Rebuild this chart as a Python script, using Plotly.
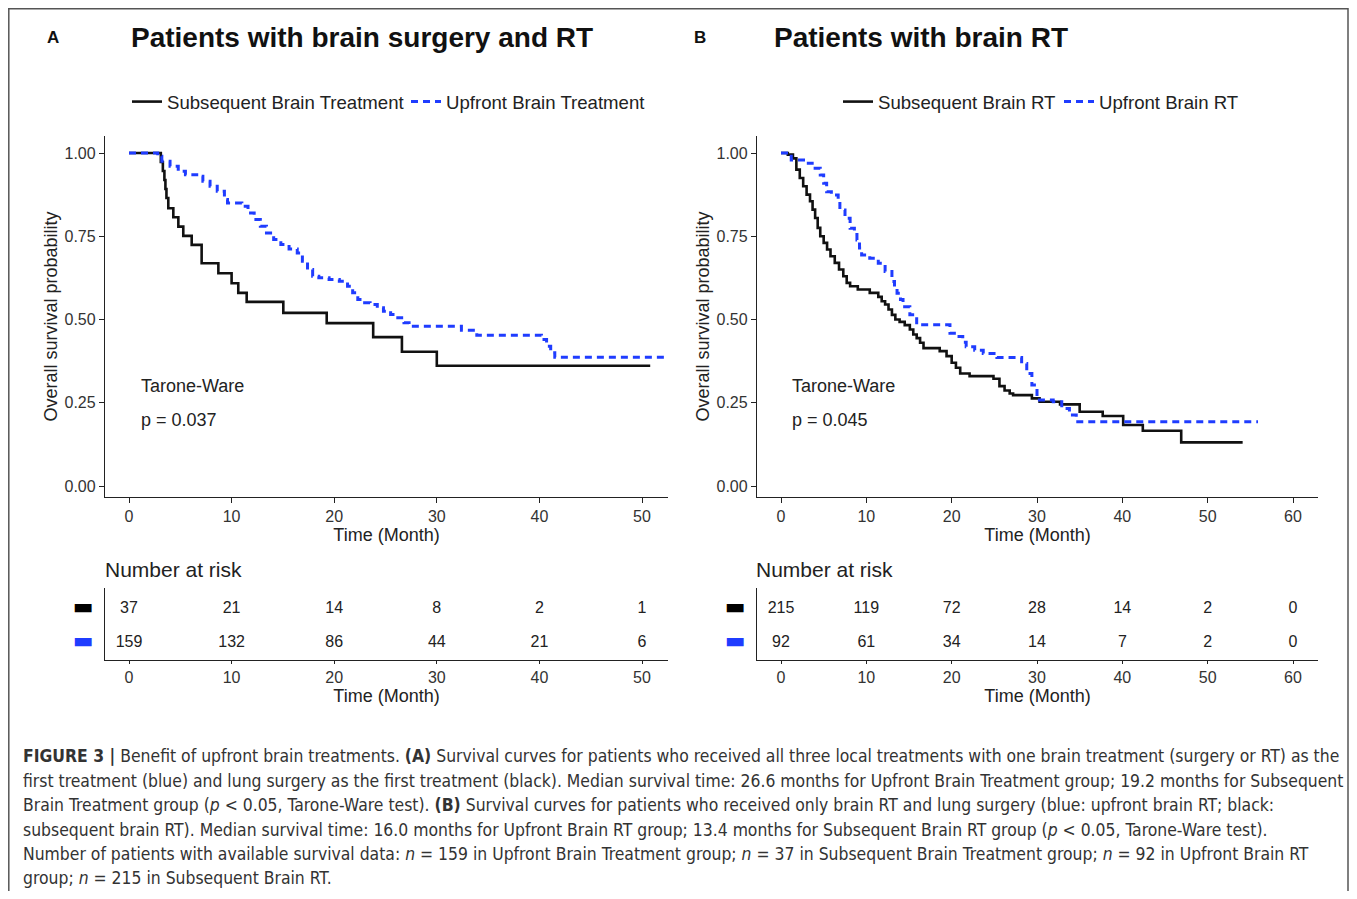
import plotly.graph_objects as go

# The page adds an 8px body margin; the figure is sized to fit inside it without overflow.
PAGE_W, PAGE_H = 1357, 899
OFF = 8
W, H = PAGE_W - 2 * OFF, PAGE_H - 2 * OFF

# ---------------- Data ----------------
# Panel A: Patients with brain surgery and RT
a_sub_t = [0, 3.1, 3.3, 3.45, 3.55, 3.65, 3.83, 4.32, 4.81, 5.29, 6.11, 7.08, 8.71,
           10.0, 10.65, 11.47, 15.04, 19.27, 23.8, 26.6, 30.0, 50.8]
a_sub_s = [1.0, 0.973, 0.946, 0.919, 0.892, 0.865, 0.834, 0.807, 0.779, 0.751, 0.724,
           0.669, 0.639, 0.609, 0.580, 0.553, 0.520, 0.489, 0.447, 0.403, 0.361, 0.361]

a_up_t = [0, 2.8, 3.2, 4.0, 4.8, 5.5, 6.6, 7.2, 7.9, 8.6, 9.3, 9.6, 11.0, 11.6, 12.2,
          12.8, 13.4, 14.1, 14.8, 15.6, 16.4, 16.9, 17.4, 17.9, 18.5, 19.5, 20.5, 21.3,
          21.8, 22.3, 22.8, 23.5, 24.2, 24.8, 25.5, 26.2, 26.8, 27.3, 32.4, 33.9, 40.2,
          40.7, 41.1, 41.5, 52.2]
a_up_s = [1.0, 0.99, 0.975, 0.96, 0.945, 0.935, 0.93, 0.915, 0.90, 0.885, 0.86, 0.85,
          0.84, 0.82, 0.80, 0.78, 0.76, 0.74, 0.725, 0.712, 0.70, 0.675, 0.65, 0.63,
          0.625, 0.62, 0.615, 0.60, 0.58, 0.56, 0.55, 0.545, 0.535, 0.525, 0.515, 0.505,
          0.49, 0.48, 0.468, 0.453, 0.44, 0.42, 0.40, 0.387, 0.387]

# Panel B: Patients with brain RT
b_sub_t = [0, 0.8, 1.4, 1.8, 2.2, 2.6, 3.0, 3.4, 3.7, 4.0, 4.3, 4.6, 5.0, 5.4, 5.8,
           6.3, 6.8, 7.3, 7.7, 8.1, 9.0, 10.4, 11.4, 11.8, 12.2, 12.6, 13.0, 13.4, 13.9,
           14.5, 15.1, 15.5, 15.9, 16.3, 16.7, 18.6, 19.4, 20.0, 20.5, 21.0, 22.1, 24.9,
           25.6, 26.2, 26.8, 27.2, 29.4, 30.3, 32.7, 35.0, 37.7, 40.1, 42.4, 46.9, 54.1]
b_sub_s = [1.0, 0.995, 0.984, 0.95, 0.925, 0.90, 0.875, 0.855, 0.83, 0.805, 0.775,
           0.75, 0.73, 0.71, 0.69, 0.67, 0.65, 0.63, 0.61, 0.60, 0.59, 0.58, 0.568,
           0.555, 0.545, 0.53, 0.514, 0.50, 0.493, 0.483, 0.47, 0.455, 0.444, 0.43,
           0.414, 0.405, 0.39, 0.37, 0.355, 0.338, 0.33, 0.322, 0.30, 0.287, 0.278,
           0.273, 0.263, 0.253, 0.245, 0.223, 0.21, 0.183, 0.166, 0.131, 0.131]

b_up_t = [0, 1.2, 3.2, 4.0, 4.6, 5.0, 5.35, 5.9, 6.7, 6.9, 7.5, 8.1, 8.6, 8.9, 9.2,
          9.45, 10.4, 11.4, 12.2, 13.0, 13.3, 13.6, 14.0, 14.3, 15.1, 15.9, 19.8, 20.5,
          21.3, 21.7, 22.7, 23.7, 25.3, 28.2, 28.8, 29.4, 30.0, 31.9, 32.9, 33.8, 34.6,
          55.9]
b_up_s = [1.0, 0.979, 0.969, 0.954, 0.934, 0.909, 0.884, 0.874, 0.854, 0.829, 0.804,
          0.774, 0.755, 0.739, 0.715, 0.694, 0.684, 0.669, 0.644, 0.614, 0.598, 0.579,
          0.56, 0.538, 0.514, 0.484, 0.459, 0.449, 0.432, 0.418, 0.408, 0.398, 0.386,
          0.368, 0.338, 0.303, 0.258, 0.253, 0.233, 0.213, 0.193, 0.193]

# Number at risk tables
risk_times_a = [0, 10, 20, 30, 40, 50]
risk_a_sub = [37, 21, 14, 8, 2, 1]
risk_a_up = [159, 132, 86, 44, 21, 6]

risk_times_b = [0, 10, 20, 30, 40, 50, 60]
risk_b_sub = [215, 119, 72, 28, 14, 2, 0]
risk_b_up = [92, 61, 34, 14, 7, 2, 0]

y_ticks = [0, 0.25, 0.5, 0.75, 1.0]
y_ticklabels = ["0.00", "0.25", "0.50", "0.75", "1.00"]

# ---------------- Styling ----------------
BLACK = "#111111"
BLUE = "#1f3cff"
FONT = "Liberation Sans, Arial, sans-serif"
TXT = "#222222"


def px_x(p):
    return (p - OFF) / W


def px_y(p):
    return 1 - (p - OFF) / H


fig = go.Figure()

# Panel A curves
fig.add_trace(go.Scatter(x=a_sub_t, y=a_sub_s, mode="lines", line_shape="hv",
                         line=dict(color=BLACK, width=2.6),
                         name="Subsequent Brain Treatment", xaxis="x", yaxis="y",
                         legend="legend"))
fig.add_trace(go.Scatter(x=a_up_t, y=a_up_s, mode="lines", line_shape="hv",
                         line=dict(color=BLUE, width=3, dash="7px,5px"),
                         name="Upfront Brain Treatment", xaxis="x", yaxis="y",
                         legend="legend"))
# Panel B curves
fig.add_trace(go.Scatter(x=b_sub_t, y=b_sub_s, mode="lines", line_shape="hv",
                         line=dict(color=BLACK, width=2.6),
                         name="Subsequent Brain RT", xaxis="x3", yaxis="y3",
                         legend="legend2"))
fig.add_trace(go.Scatter(x=b_up_t, y=b_up_s, mode="lines", line_shape="hv",
                         line=dict(color=BLUE, width=3, dash="7px,5px"),
                         name="Upfront Brain RT", xaxis="x3", yaxis="y3",
                         legend="legend2"))

# Risk tables
risk_font = dict(family=FONT, size=16, color=TXT)
fig.add_trace(go.Scatter(x=risk_times_a, y=[2] * len(risk_times_a), mode="text",
                         text=[str(v) for v in risk_a_sub], textfont=risk_font,
                         xaxis="x2", yaxis="y2", showlegend=False, hoverinfo="skip"))
fig.add_trace(go.Scatter(x=risk_times_a, y=[1] * len(risk_times_a), mode="text",
                         text=[str(v) for v in risk_a_up], textfont=risk_font,
                         xaxis="x2", yaxis="y2", showlegend=False, hoverinfo="skip"))
fig.add_trace(go.Scatter(x=risk_times_b, y=[2] * len(risk_times_b), mode="text",
                         text=[str(v) for v in risk_b_sub], textfont=risk_font,
                         xaxis="x4", yaxis="y4", showlegend=False, hoverinfo="skip"))
fig.add_trace(go.Scatter(x=risk_times_b, y=[1] * len(risk_times_b), mode="text",
                         text=[str(v) for v in risk_b_up], textfont=risk_font,
                         xaxis="x4", yaxis="y4", showlegend=False, hoverinfo="skip"))

# ---------------- Axes ----------------
tickfont = dict(family=FONT, size=16, color="#333333")
titlefont = dict(family=FONT, size=18, color=TXT)

axis_base = dict(showline=True, linecolor="#222222", linewidth=1.3, ticks="outside",
                 tickcolor="#222222", tickwidth=1.2, showgrid=False,
                 zeroline=False, tickfont=tickfont, fixedrange=True)

# pixel geometry (page pixels)
A_x0, A_x1 = 105, 668
B_x0, B_x1 = 757, 1318
main_top, main_bot = 136, 497
risk_top, risk_bot = 588, 660

# A x range: 0 at 129 px, 50 at 642 px
a_ppm = (642 - 129) / 50
a_range = [(A_x0 - 129) / a_ppm, (A_x1 - 129) / a_ppm]
# B x range: 0 at 781 px, 60 at 1293 px
b_ppm = (1293 - 781) / 60
b_range = [(B_x0 - 781) / b_ppm, (B_x1 - 781) / b_ppm]
# y range: 1.0 at 153 px, 0 at 486 px
ppu = 486 - 153
y_range = [-(main_bot - 486) / ppu, 1 + (153 - main_top) / ppu]
risk_range = [0.51, 2.61]

main_y_domain = [px_y(main_bot), px_y(main_top)]
risk_y_domain = [px_y(risk_bot), px_y(risk_top)]

bar_black = "<span style='color:#000000'>\u25ac</span>"
bar_blue = "<span style='color:#1f3cff'>\u25ac</span>"


def main_x(domain, rng, anchor, tv):
    return dict(domain=domain, range=rng, anchor=anchor, tickvals=tv, ticklen=5,
                title=dict(text="Time (Month)", font=titlefont, standoff=2), **axis_base)


def risk_x(domain, rng, anchor, tv):
    return dict(domain=domain, range=rng, anchor=anchor, tickvals=tv, ticklen=3,
                title=dict(text="Time (Month)", font=titlefont, standoff=2), **axis_base)


def main_y(anchor):
    return dict(domain=main_y_domain, range=y_range, anchor=anchor, tickvals=y_ticks,
                ticktext=y_ticklabels, ticklen=5,
                title=dict(text="Overall survival probability", font=titlefont, standoff=2),
                **axis_base)


def risk_y(anchor):
    return dict(domain=risk_y_domain, range=risk_range, anchor=anchor,
                tickvals=[2, 1], ticktext=[bar_black, bar_blue],
                showline=True, linecolor="#222222", linewidth=1.3, ticks="",
                ticklabelstandoff=6, ticklabelshift=-3,
                showgrid=False, zeroline=False, fixedrange=True,
                tickfont=dict(family="DejaVu Sans", size=22))


ticks_a = [0, 10, 20, 30, 40, 50]
ticks_b = [0, 10, 20, 30, 40, 50, 60]
fig.update_layout(
    xaxis=main_x([px_x(A_x0), px_x(A_x1)], a_range, "y", ticks_a),
    yaxis=main_y("x"),
    xaxis2=risk_x([px_x(A_x0), px_x(A_x1)], a_range, "y2", ticks_a),
    yaxis2=risk_y("x2"),
    xaxis3=main_x([px_x(B_x0), px_x(B_x1)], b_range, "y3", ticks_b),
    yaxis3=main_y("x3"),
    xaxis4=risk_x([px_x(B_x0), px_x(B_x1)], b_range, "y4", ticks_b),
    yaxis4=risk_y("x4"),
)

legend_font = dict(family=FONT, size=18.6, color=TXT)
fig.update_layout(
    legend=dict(orientation="h", x=px_x(127), y=px_y(102), xanchor="left",
                yanchor="middle", font=legend_font, bgcolor="rgba(0,0,0,0)",
                itemwidth=30, tracegroupgap=0, entrywidth=234, entrywidthmode="pixels"),
    legend2=dict(orientation="h", x=px_x(838), y=px_y(102), xanchor="left",
                 yanchor="middle", font=legend_font, bgcolor="rgba(0,0,0,0)",
                 itemwidth=30, tracegroupgap=0, entrywidth=176, entrywidthmode="pixels"),
)

# ---------------- Annotations ----------------
ann = []
ann.append(dict(text="<b>A</b>", x=px_x(53), y=px_y(38), xref="paper", yref="paper",
                showarrow=False, xanchor="center", yanchor="middle",
                font=dict(family=FONT, size=17, color="#111")))
ann.append(dict(text="<b>B</b>", x=px_x(700), y=px_y(38), xref="paper", yref="paper",
                showarrow=False, xanchor="center", yanchor="middle",
                font=dict(family=FONT, size=17, color="#111")))
ann.append(dict(text="<b>Patients with brain surgery and RT</b>", x=px_x(129), y=px_y(38),
                xref="paper", yref="paper", showarrow=False, xanchor="left",
                yanchor="middle", font=dict(family=FONT, size=28, color="#111")))
ann.append(dict(text="<b>Patients with brain RT</b>", x=px_x(772), y=px_y(38),
                xref="paper", yref="paper", showarrow=False, xanchor="left",
                yanchor="middle", font=dict(family=FONT, size=28, color="#111")))

tw_font = dict(family=FONT, size=18, color=TXT)
for xr, yr, pval in [("x", "y", "p = 0.037"), ("x3", "y3", "p = 0.045")]:
    ann.append(dict(text="Tarone-Ware", x=1.0, y=0.30, xref=xr, yref=yr,
                    showarrow=False, xanchor="left", yanchor="middle", font=tw_font))
    ann.append(dict(text=pval, x=1.0, y=0.198, xref=xr, yref=yr,
                    showarrow=False, xanchor="left", yanchor="middle", font=tw_font))

for xp in [103, 754]:
    ann.append(dict(text="Number at risk", x=px_x(xp), y=px_y(569), xref="paper",
                    yref="paper", showarrow=False, xanchor="left", yanchor="middle",
                    font=dict(family=FONT, size=21, color=TXT)))

caption_lines = [
    "<b>FIGURE 3 |</b> Benefit of upfront brain treatments. <b>(A)</b> Survival curves for patients who received all three local treatments with one brain treatment (surgery or RT) as the",
    "first treatment (blue) and lung surgery as the first treatment (black). Median survival time: 26.6 months for Upfront Brain Treatment group; 19.2 months for Subsequent",
    "Brain Treatment group (<i>p</i> &lt; 0.05, Tarone-Ware test). <b>(B)</b> Survival curves for patients who received only brain RT and lung surgery (blue: upfront brain RT; black:",
    "subsequent brain RT). Median survival time: 16.0 months for Upfront Brain RT group; 13.4 months for Subsequent Brain RT group (<i>p</i> &lt; 0.05, Tarone-Ware test).",
    "Number of patients with available survival data: <i>n</i> = 159 in Upfront Brain Treatment group; <i>n</i> = 37 in Subsequent Brain Treatment group; <i>n</i> = 92 in Upfront Brain RT",
    "group; <i>n</i> = 215 in Subsequent Brain RT.",
]
cap_y = [756, 780.5, 805, 829.5, 854, 878]
cap_font = dict(family="DejaVu Sans Condensed, Liberation Sans Narrow, Liberation Sans",
                size=17.4, color="#333333")
for line, yy in zip(caption_lines, cap_y):
    ann.append(dict(text=line, x=px_x(21), y=px_y(yy), xref="paper", yref="paper",
                    showarrow=False, xanchor="left", yanchor="middle", font=cap_font))

fig.update_layout(annotations=ann)

# Frame around the figure
frame = dict(color="#555555", width=1.5)
right_edge = OFF + W - 1
fig.add_shape(type="line", xref="paper", yref="paper", x0=px_x(8), x1=px_x(right_edge),
              y0=px_y(8.8), y1=px_y(8.8), line=frame)
fig.add_shape(type="line", xref="paper", yref="paper", x0=px_x(8.8), x1=px_x(8.8),
              y0=px_y(8), y1=-0.01, line=frame)
fig.add_shape(type="line", xref="paper", yref="paper", x0=px_x(right_edge), x1=px_x(right_edge),
              y0=px_y(8), y1=-0.01, line=frame)

fig.update_layout(width=W, height=H, margin=dict(l=0, r=0, t=0, b=0),
                  paper_bgcolor="white", plot_bgcolor="white",
                  font=dict(family=FONT, color=TXT), hovermode=False)

fig.write_html("out.html", config={"displayModeBar": False})
